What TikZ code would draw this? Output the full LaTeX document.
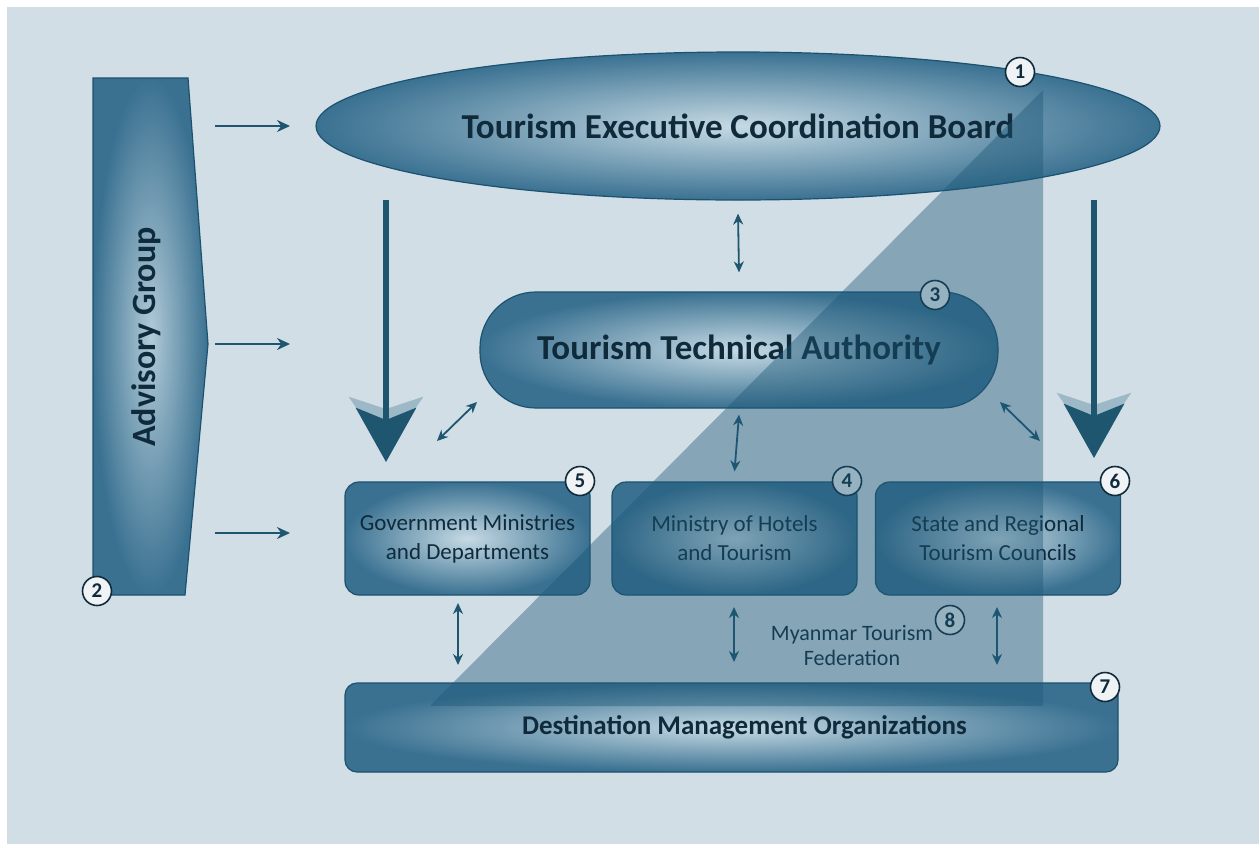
\documentclass[tikz,border=0pt]{standalone}
\usepackage{fontspec}
\setmainfont{Carlito}
\usetikzlibrary{arrows.meta, shapes.geometric, positioning}

\definecolor{bgblue}{HTML}{D2DEE5}
\definecolor{rimblue}{HTML}{1C5270}
\definecolor{edgeblue}{HTML}{3A7191}
\definecolor{glowblue}{HTML}{C6DAE4}
\definecolor{arrowblue}{HTML}{1E5670}
\definecolor{ghostblue}{HTML}{9DB9C8}
\definecolor{inkblue}{HTML}{0F2B3B}
\definecolor{veilblue}{HTML}{1D5877}

\begin{document}
\begin{tikzpicture}[x=1pt, y=-1pt,
    bodybox/.style={draw=rimblue, line width=1.2pt, inner color=glowblue, outer color=edgeblue, text=inkblue},
    unitbox/.style={bodybox, rectangle, rounded corners=14pt, minimum width=245pt, minimum height=113pt,
        align=center, font=\fontsize{23}{29}\selectfont},
    tag/.style={circle, draw=inkblue, line width=1.6pt, fill=bgblue!35!white, minimum size=29pt, inner sep=0pt,
        text=inkblue, font=\fontsize{21}{21}\selectfont\bfseries},
    link/.style={draw=arrowblue, line width=2pt, -{Stealth[length=13pt, width=12pt]}},
    twoway/.style={draw=arrowblue, line width=1.8pt, {Stealth[length=11pt, width=10pt]}-{Stealth[length=11pt, width=10pt]}},
    bigdown/.style={draw=arrowblue, line width=6pt, -{Stealth[length=54pt, width=60pt, inset=12pt]}},
    ghostdown/.style={draw=ghostblue, line width=6pt, -{Stealth[length=54pt, width=74pt, inset=12pt]}}
]
% page and background
\useasboundingbox (0,0) rectangle (1259,844);
\fill[white] (0,0) rectangle (1259,844);
\fill[bgblue] (7,7) rectangle (1259,844);

% advisory group
\draw[bodybox, inner color=glowblue!85!edgeblue] (93,78) -- (188,78) -- (208,344) -- (185,595) -- (93,595) -- cycle;
\node[rotate=90, text=inkblue, font=\fontsize{34}{34}\selectfont\bfseries] (advisory) at (146,337) {Advisory Group};
\node[tag] (tag2) at (97,591) {2};

% main bodies
\node[bodybox, ellipse, minimum width=844pt, minimum height=148pt,
    font=\fontsize{35}{35}\selectfont\bfseries] (board) at (738,126) {Tourism Executive Coordination Board\hspace{16pt}};
\node[bodybox, rectangle, rounded corners=56pt, minimum width=518pt, minimum height=116pt,
    font=\fontsize{35}{35}\selectfont\bfseries] (tta) at (739,350) {Tourism Technical Authority};

\node[unitbox] (govt) at (467.5,538.5) {Government Ministries\\and Departments};
\node[unitbox] (mht) at (734.5,538.5) {Ministry of Hotels\\and Tourism};
\node[unitbox] (states) at (998,538.5) {State and Regional\\Tourism Councils};

\node[bodybox, rectangle, rounded corners=12pt, minimum width=773pt, minimum height=89pt,
    font=\fontsize{27}{27}\selectfont\bfseries] (dmo) at (731.5,727.5) {\hspace{26pt}Destination Management Organizations};

\node[align=center, text=inkblue, font=\fontsize{22}{25}\selectfont] (mtf) at (852,646) {Myanmar Tourism\\Federation};

% arrow ends
\coordinate (adv1) at (215,126);  \coordinate (adv1x) at (290,126);
\coordinate (adv2) at (215,344);  \coordinate (adv2x) at (290,344);
\coordinate (adv3) at (215,533);  \coordinate (adv3x) at (290,533);
\coordinate (downL) at (386,200); \coordinate (downLx) at (386,462); \coordinate (ghostL) at (386,451);
\coordinate (downR) at (1094,200); \coordinate (downRx) at (1094,458); \coordinate (ghostR) at (1094,447);
\coordinate (diagL) at (437,441); \coordinate (diagLx) at (477,402);
\coordinate (diagR) at (1000,402); \coordinate (diagRx) at (1040,441);
\coordinate (lowA) at (458,603);  \coordinate (lowAx) at (458,665);
\coordinate (lowB) at (734,607);  \coordinate (lowBx) at (734,662);
\coordinate (lowC) at (997,607);  \coordinate (lowCx) at (997,665);

\draw[link] (adv1) -- (adv1x);
\draw[link] (adv2) -- (adv2x);
\draw[link] (adv3) -- (adv3x);

\draw[ghostdown] (downL) -- (ghostL);
\draw[bigdown] (downL) -- (downLx);
\draw[ghostdown] (downR) -- (ghostR);
\draw[bigdown] (downR) -- (downRx);

\draw[twoway] ([yshift=-13pt]board.south) -- ([yshift=19pt]tta.north);
\draw[twoway] ([yshift=-6pt]tta.south) -- ([yshift=10pt]mht.north);
\draw[twoway] (diagL) -- (diagLx);
\draw[twoway] (diagR) -- (diagRx);
\draw[twoway] (lowA) -- (lowAx);
\draw[twoway] (lowB) -- (lowBx);
\draw[twoway] (lowC) -- (lowCx);

% number tags
\node[tag] (tag1) at (1020,72) {1};
\node[tag] (tag3) at (935,295) {3};
\node[tag] (tag5) at (580,481) {5};
\node[tag] (tag4) at (847,481) {4};
\node[tag] (tag6) at (1115,481) {6};
\node[tag] (tag7) at (1105,687) {7};
\node[tag] (tag8) at (950,620) {8};

% translucent veil
\fill[veilblue, fill opacity=0.42] (1043,90) -- (1043,706) -- (430,706) -- cycle;
\end{tikzpicture}
\end{document}
